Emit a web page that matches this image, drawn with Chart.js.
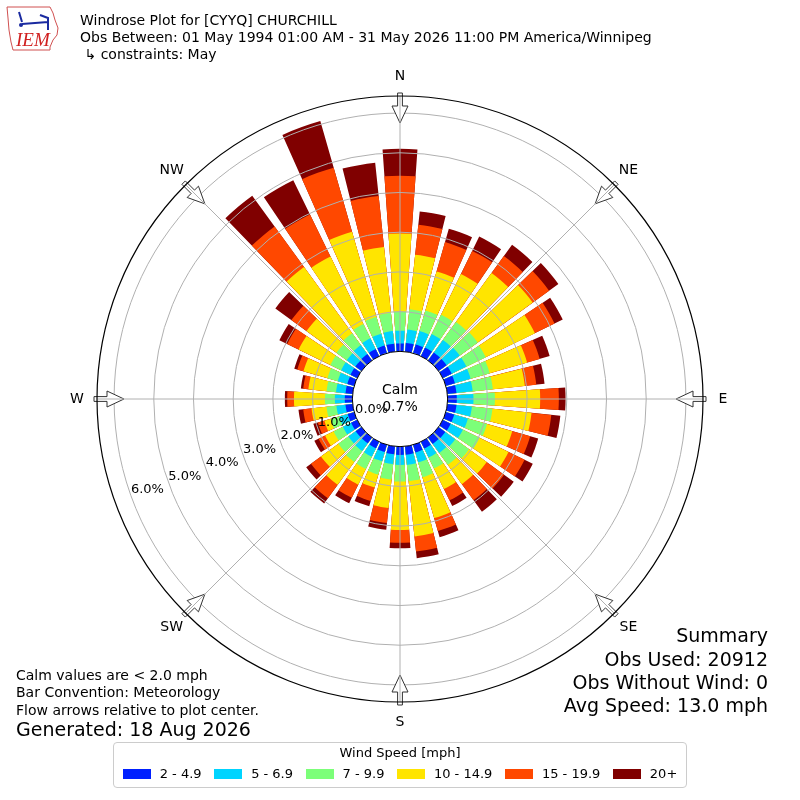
<!DOCTYPE html>
<html>
<head>
<meta charset="utf-8">
<script src="https://cdn.jsdelivr.net/npm/chart.js@4.4.1/dist/chart.umd.min.js"></script>
<style>
  body { margin: 0; background: #fff; }
  #wrap { position: relative; width: 800px; height: 800px; font-family: "DejaVu Sans", sans-serif; color: #000; overflow: hidden; }
  canvas { position: absolute; left: 0; top: 0; }
  .t { position: absolute; white-space: pre; }
  .r { text-align: right; }
  #legend { position: absolute; left: 113px; top: 742px; width: 572px; height: 44px; border: 1px solid #cccccc; border-radius: 4px; background: #fff; }
  #legend .lt { position: absolute; left: 0; right: 0; top: 1px; text-align: center; font-size: 13px; line-height: 18px; }
  #items { position: absolute; left: 0; right: 0; top: 22px; display: flex; justify-content: center; gap: 12.5px; font-size: 13px; line-height: 18px; }
  #items .it { display: flex; align-items: center; }
  #items .sw { display: inline-block; width: 28px; height: 10px; margin-right: 9px; }
</style>
</head>
<body>
<div id="wrap">
  <canvas id="c" width="800" height="800"></canvas>
  <svg style="position:absolute;left:0;top:0" width="70" height="56" viewBox="0 0 70 56">
    <path d="M7,7 L50,7 L53,13 L55,20 L58,28 L57,35 L53,40 L50,47 L50,50 L13,50 L11,42 L9,30 L8,18 Z" fill="none" stroke="#d05050" stroke-width="1"/>
    <path d="M19,12 L22,22 M22,24 L48,22 M40,15 L48,18 L48,30" stroke="#1a2aa0" stroke-width="2" fill="none"/>
    <circle cx="21" cy="25" r="2" fill="#1a2aa0"/>
    <text x="16" y="46" font-family="Liberation Serif" font-style="italic" font-size="19" fill="#d02020">IEM</text>
  </svg>
  <div class="t" style="left:80px;top:10px;font-size:14px;line-height:20px">Windrose Plot for [CYYQ] CHURCHILL</div>
  <div class="t" style="left:80px;top:27px;font-size:14px;line-height:20px">Obs Between: 01 May 1994 01:00 AM - 31 May 2026 11:00 PM America/Winnipeg</div>
  <div class="t" style="left:80px;top:44px;font-size:14px;line-height:20px"> ↳ constraints: May</div>

  <div class="t r" style="right:32px;top:623px;font-size:19px;line-height:24px">Summary</div>
  <div class="t r" style="right:32px;top:647px;font-size:19px;line-height:24px">Obs Used: 20912</div>
  <div class="t r" style="right:32px;top:670px;font-size:19px;line-height:24px">Obs Without Wind: 0</div>
  <div class="t r" style="right:32px;top:693px;font-size:19px;line-height:24px">Avg Speed: 13.0 mph</div>

  <div class="t" style="left:16px;top:666px;font-size:14px;line-height:18px">Calm values are &lt; 2.0 mph</div>
  <div class="t" style="left:16px;top:683px;font-size:14px;line-height:18px">Bar Convention: Meteorology</div>
  <div class="t" style="left:16px;top:701px;font-size:14px;line-height:18px">Flow arrows relative to plot center.</div>
  <div class="t" style="left:16px;top:717px;font-size:19px;line-height:24px">Generated: 18 Aug 2026</div>

  <div id="legend">
    <div class="lt">Wind Speed [mph]</div>
    <div id="items"></div>
  </div>
</div>
<script>
// ---------------- data ----------------
const directions = [0,10,20,30,40,50,60,70,80,90,100,110,120,130,140,150,160,170,
                    180,190,200,210,220,230,240,250,260,270,280,290,300,310,320,330,340,350];
const speedBins = ['2 - 4.9', '5 - 6.9', '7 - 9.9', '10 - 14.9', '15 - 19.9', '20+'];
const binColors = ['#0020ff', '#00d4ff', '#7cff79', '#ffe500', '#ff4800', '#800000'];

// frequency (%) per direction for each speed bin
const pct_2_5   = [0.20,0.22,0.23,0.24,0.25,0.25,0.25,0.24,0.23,0.23,0.23,0.22,0.22,0.21,0.20,0.19,0.20,0.21,
                   0.21,0.20,0.19,0.18,0.18,0.18,0.17,0.17,0.18,0.19,0.18,0.18,0.19,0.19,0.20,0.20,0.20,0.20];
const pct_5_7   = [0.32,0.34,0.35,0.38,0.39,0.41,0.41,0.41,0.41,0.42,0.39,0.36,0.34,0.31,0.28,0.25,0.26,0.26,
                   0.25,0.25,0.24,0.24,0.24,0.23,0.23,0.22,0.23,0.25,0.24,0.25,0.26,0.27,0.28,0.30,0.31,0.32];
const pct_7_10  = [0.48,0.51,0.54,0.54,0.56,0.56,0.54,0.50,0.51,0.54,0.52,0.50,0.47,0.43,0.37,0.31,0.39,0.41,
                   0.42,0.39,0.35,0.34,0.34,0.31,0.26,0.23,0.25,0.25,0.24,0.27,0.30,0.32,0.37,0.40,0.44,0.46];
const pct_10_15 = [1.97,1.38,1.02,1.14,1.52,1.71,1.38,0.98,0.81,1.14,0.99,0.66,0.81,0.55,0.60,0.57,1.07,1.40,
                   1.22,0.72,0.34,0.44,0.71,0.54,0.24,0.16,0.38,0.78,0.46,0.63,0.89,0.93,2.06,1.89,2.23,1.67];
const pct_15_20 = [1.45,0.76,0.77,0.65,0.53,0.51,0.55,0.33,0.29,0.47,0.50,0.47,0.45,0.54,0.50,0.32,0.34,0.38,
                   0.32,0.38,0.35,0.37,0.42,0.31,0.18,0.17,0.21,0.17,0.13,0.16,0.32,0.47,1.26,1.18,1.68,1.29];
const pct_20up  = [0.68,0.34,0.35,0.40,0.35,0.29,0.23,0.26,0.21,0.17,0.23,0.21,0.23,0.30,0.36,0.16,0.16,0.17,
                   0.14,0.17,0.14,0.15,0.16,0.15,0.12,0.12,0.12,0.06,0.06,0.08,0.22,0.50,0.96,0.96,1.22,0.84];
const calmPct = 0.7;

const ringValues = [1, 2, 3, 4, 5, 6];
const tickLabelValues = [0, 1, 2, 3, 4, 5, 6];
const tickLabels = ['0.0%', '1.0%', '2.0%', '3.0%', '4.0%', '5.0%', '6.0%'];
const compassBearings = [0, 45, 90, 135, 180, 225, 270, 315];
const compassLabels = ['N', 'NE', 'E', 'SE', 'S', 'SW', 'W', 'NW'];

// ---------------- build ----------------
const series = [pct_2_5, pct_5_7, pct_7_10, pct_10_15, pct_15_20, pct_20up];
const R_MIN = -1.2, R_MAX = 6.43;
const BAR_DEG = 8, GAP_DEG = 2;

const cumulative = series.map((s, k) =>
  directions.map((_, i) => series.slice(0, k + 1).reduce((a, b) => a + b[i], 0)));

const labels = directions.flatMap(d => [d + '°', '']);
const angles = directions.flatMap(() => [BAR_DEG, GAP_DEG]);

const datasets = series.map((s, k) => ({
  label: speedBins[k],
  data: cumulative[k].flatMap(v => [v, R_MIN]),
  backgroundColor: binColors[k],
  borderWidth: 0,
  angle: angles
}));

const FONT = '"DejaVu Sans", sans-serif';
function pt(s, bearing, r) {
  const a = (bearing - 90) * Math.PI / 180;
  return [s.xCenter + r * Math.cos(a), s.yCenter + r * Math.sin(a)];
}

const windrosePlugin = {
  id: 'windrose',
  afterDatasetsDraw(chart) {
    const s = chart.scales.r, ctx = chart.ctx;
    const r0 = s.getDistanceFromCenterForValue(0);
    ctx.save();
    ctx.beginPath();
    ctx.arc(s.xCenter, s.yCenter, r0, 0, Math.PI * 2);
    ctx.fillStyle = '#ffffff';
    ctx.fill();
    ctx.restore();
  },
  afterDraw(chart) {
    const s = chart.scales.r, ctx = chart.ctx;
    const r0 = s.getDistanceFromCenterForValue(0);
    const R = s.getDistanceFromCenterForValue(R_MAX);
    ctx.save();
    // arrows
    compassBearings.forEach(b => {
      const shape = [[R + 3, -2.4], [R - 10, -2.4], [R - 10, -8], [R - 27, 0], [R - 10, 8], [R - 10, 2.4], [R + 3, 2.4]];
      const a = b * Math.PI / 180;
      const ux = Math.sin(a), uy = -Math.cos(a), vx = Math.cos(a), vy = Math.sin(a);
      ctx.beginPath();
      shape.forEach(([r, o], i) => {
        const x = s.xCenter + ux * r + vx * o, y = s.yCenter + uy * r + vy * o;
        if (i === 0) ctx.moveTo(x, y); else ctx.lineTo(x, y);
      });
      ctx.closePath();
      ctx.fillStyle = '#ffffff';
      ctx.fill();
      ctx.strokeStyle = '#333333';
      ctx.lineWidth = 1;
      ctx.stroke();
    });
    // angle lines
    ctx.strokeStyle = '#b0b0b0';
    ctx.lineWidth = 1;
    compassBearings.forEach(b => {
      const [x1, y1] = pt(s, b, r0);
      const [x2, y2] = pt(s, b, R);
      ctx.beginPath(); ctx.moveTo(x1, y1); ctx.lineTo(x2, y2); ctx.stroke();
    });
    // outer circle
    ctx.beginPath();
    ctx.arc(s.xCenter, s.yCenter, R, 0, Math.PI * 2);
    ctx.strokeStyle = '#000000';
    ctx.lineWidth = 1.2;
    ctx.stroke();
    // calm circle edge
    ctx.beginPath();
    ctx.arc(s.xCenter, s.yCenter, r0, 0, Math.PI * 2);
    ctx.strokeStyle = '#000000';
    ctx.lineWidth = 1;
    ctx.stroke();
    // texts
    ctx.fillStyle = '#000000';
    ctx.textAlign = 'center';
    ctx.textBaseline = 'middle';
    ctx.font = '14px ' + FONT;
    ctx.fillText('Calm', s.xCenter, s.yCenter - 8.3);
    ctx.fillText(calmPct.toFixed(1) + '%', s.xCenter, s.yCenter + 8.3);
    ctx.font = '13px ' + FONT;
    tickLabelValues.forEach((v, i) => {
      const [x, y] = pt(s, 250.2, s.getDistanceFromCenterForValue(v) - 17.5);
      ctx.fillText(tickLabels[i], x, y);
    });
    ctx.font = '14px ' + FONT;
    compassBearings.forEach((b, i) => {
      const [x, y] = pt(s, b, R + 20);
      ctx.fillText(compassLabels[i], x, y);
    });
    ctx.restore();
  }
};

new Chart(document.getElementById('c'), {
  type: 'polarArea',
  data: { labels, datasets },
  options: {
    responsive: false,
    animation: false,
    events: [],
    layout: { padding: { left: 97, right: 97, top: 96, bottom: 98 } },
    plugins: { legend: { display: false }, tooltip: { enabled: false } },
    scales: {
      r: {
        type: 'radialLinear',
        min: R_MIN,
        max: R_MAX,
        startAngle: -BAR_DEG / 2,
        ticks: { display: false, stepSize: 1, z: 1 },
        afterBuildTicks: (scale) => { scale.ticks = ringValues.map(v => ({ value: v })); },
        grid: { circular: true, color: '#b0b0b0', lineWidth: 1, z: 1 },
        angleLines: { display: false },
        pointLabels: { display: false }
      }
    }
  },
  plugins: [windrosePlugin]
});

// legend
const items = document.getElementById('items');
speedBins.forEach((lab, k) => {
  const it = document.createElement('div');
  it.className = 'it';
  const sw = document.createElement('span');
  sw.className = 'sw';
  sw.style.background = binColors[k];
  const tx = document.createElement('span');
  tx.textContent = lab;
  it.appendChild(sw); it.appendChild(tx);
  items.appendChild(it);
});
</script>
</body>
</html>
